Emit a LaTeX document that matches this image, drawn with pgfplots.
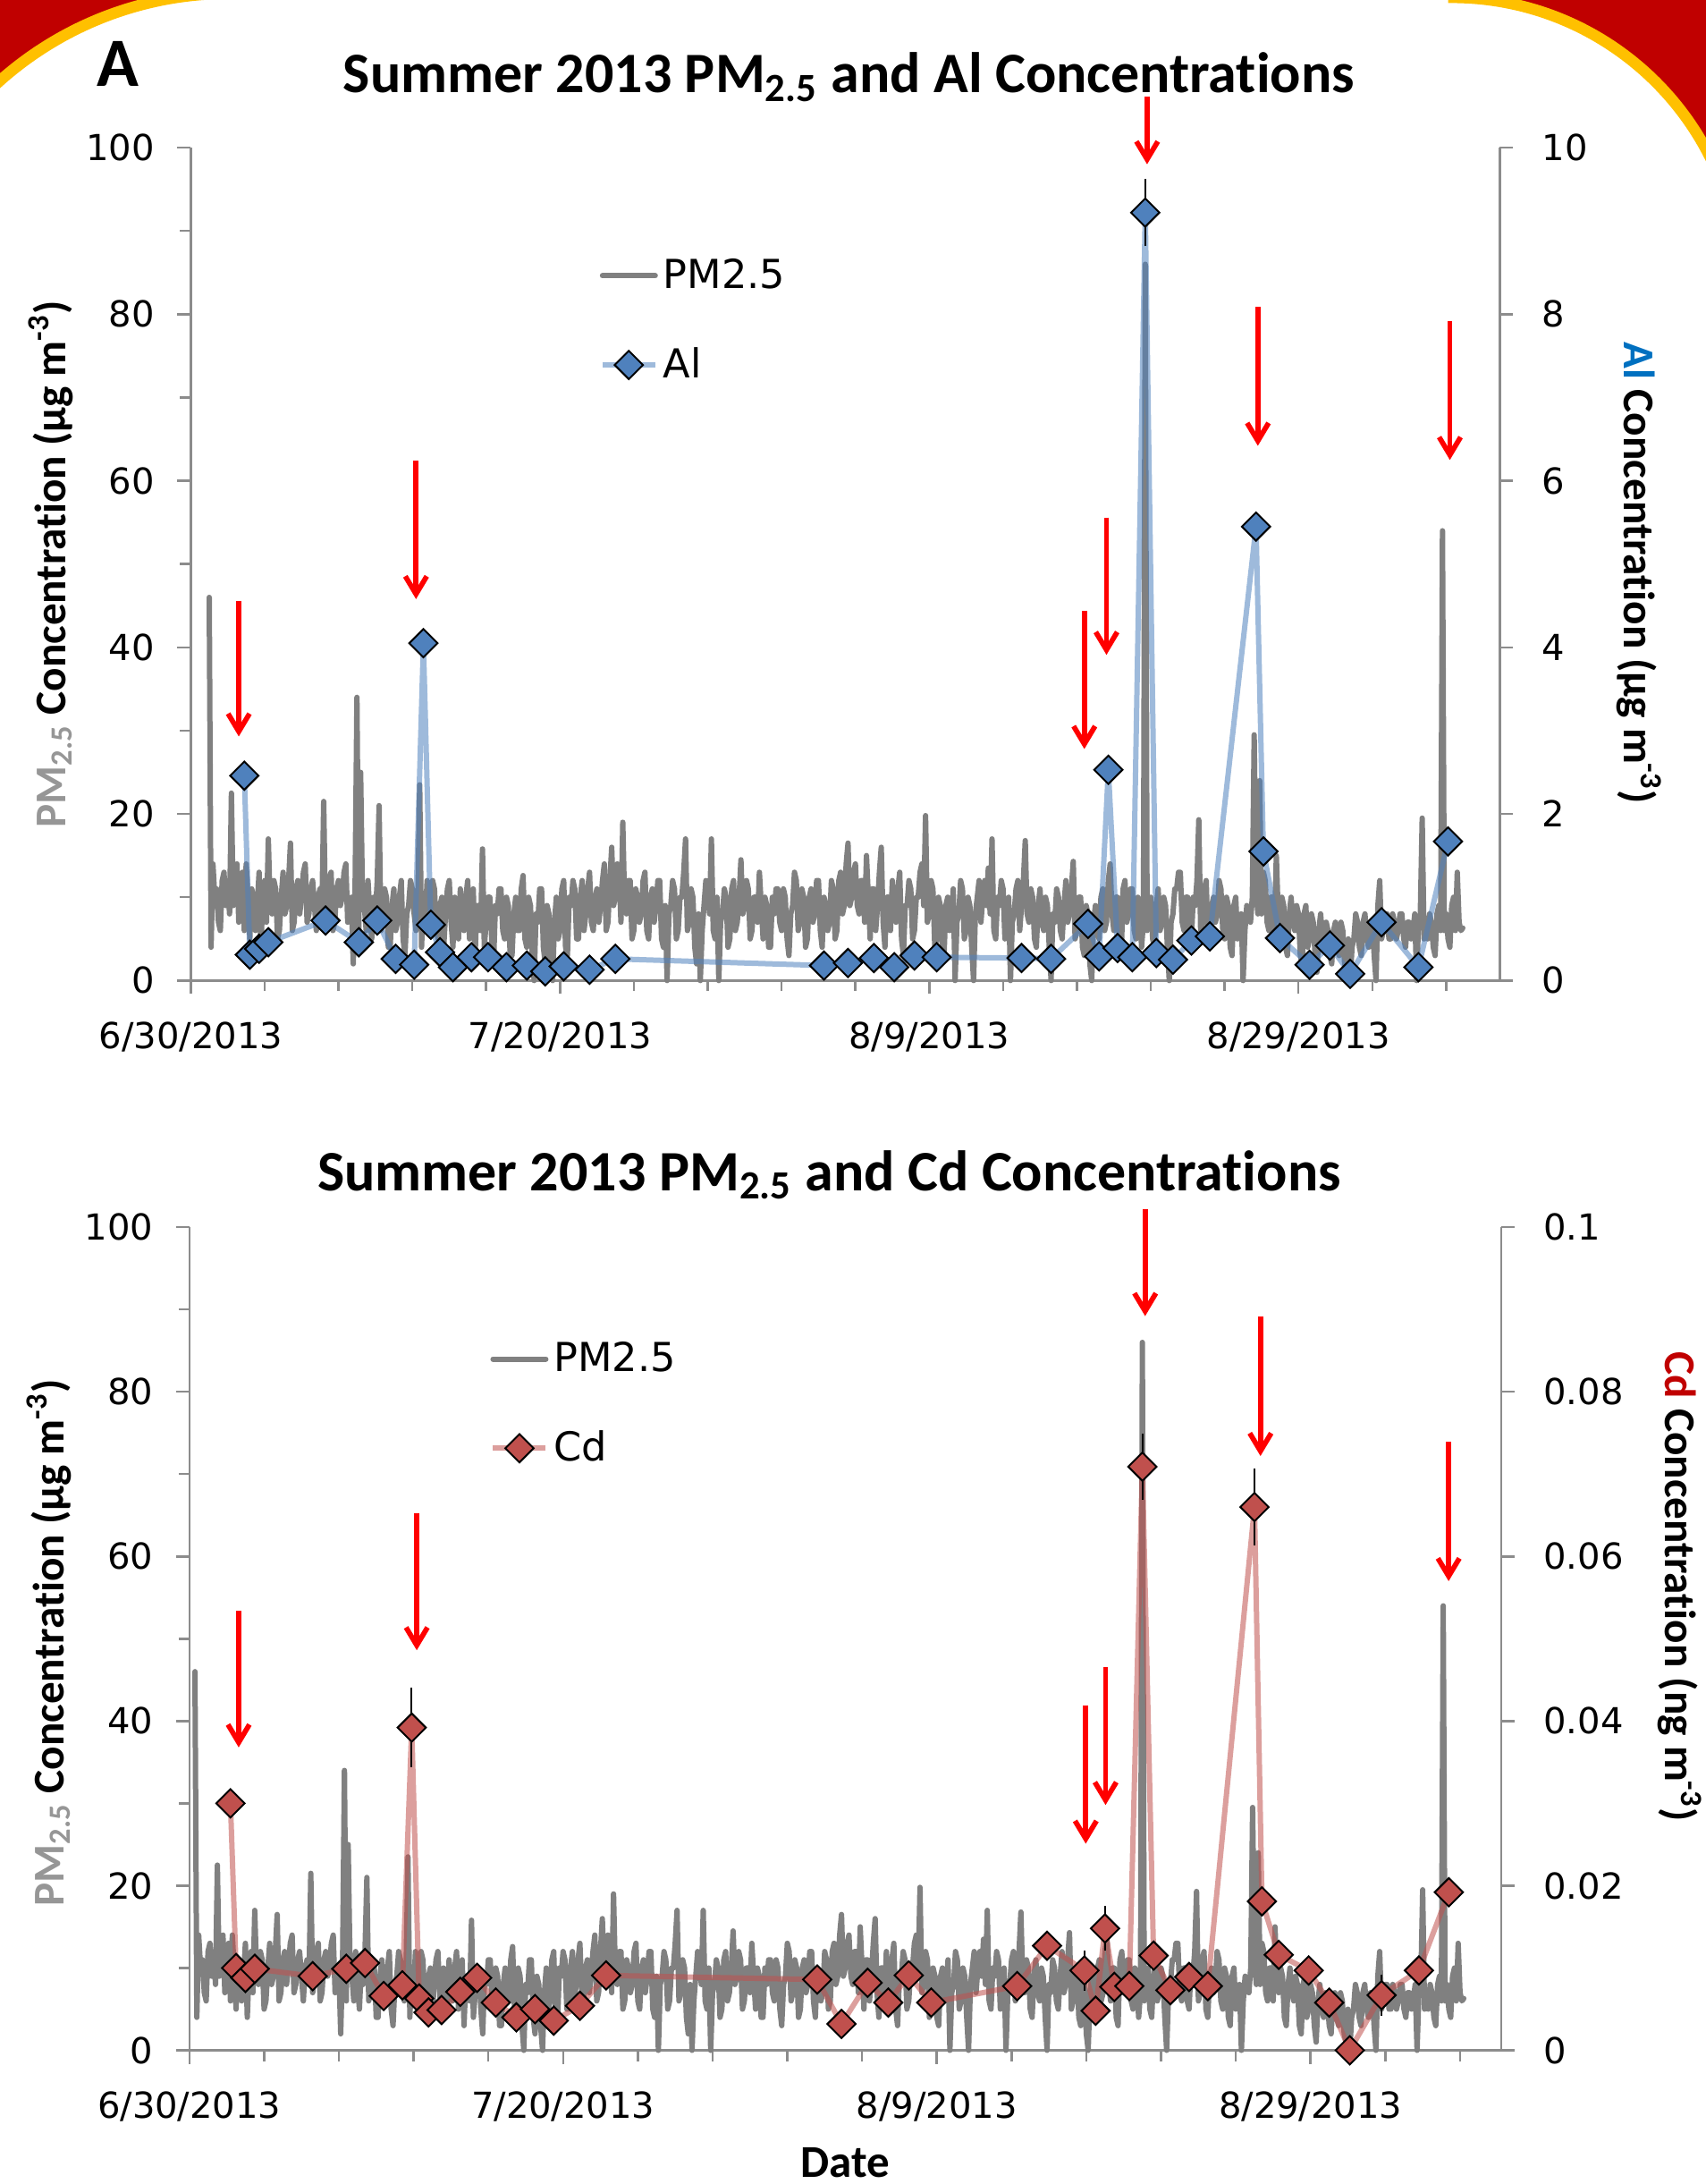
\documentclass[border=0pt]{standalone}
\usepackage{fontspec}
\setmainfont{DejaVu Sans}
\newfontfamily\calib[Ligatures=NoCommon]{Carlito}
\usepackage{pgfplots}
\usepackage{pgfplotstable}
\pgfplotsset{compat=1.18}
\usetikzlibrary{arrows.meta}

\definecolor{pmgray}{RGB}{128,128,128}
\definecolor{axgray}{RGB}{140,140,140}
\definecolor{alblue}{RGB}{79,129,189}
\definecolor{cdred}{RGB}{192,80,77}
\definecolor{lblblue}{RGB}{0,112,192}
\definecolor{lblred}{RGB}{192,0,0}
\definecolor{lblgray}{RGB}{150,150,150}
\definecolor{framered}{RGB}{192,0,0}
\definecolor{gold}{RGB}{255,192,0}

\newcommand\tickfont{\fontsize{11.4}{13}\selectfont}
\newcommand\legfont{\fontsize{12.7}{15}\selectfont}
\newcommand\labfont{\calib\bfseries\fontsize{14}{16}\selectfont}
\newcommand\titfont{\calib\bfseries\fontsize{18.2}{20}\selectfont}

% PM2.5 (ug/m3), x in days from 6/30/2013
\pgfplotstableread[row sep=\\]{
x y\\
1.0 46\\ 1.1 4\\ 1.2 14\\ 1.3 10\\ 1.4 11\\ 1.5 7\\ 1.6 6\\ 1.7 12\\ 1.8 13\\ 1.9 9\\
2.0 12\\ 2.1 8\\ 2.2 22.5\\ 2.3 9\\ 2.4 12\\ 2.5 14\\ 2.6 7\\ 2.7 11\\ 2.8 13\\ 2.9 6\\
3.0 14\\ 3.1 10\\ 3.2 5\\ 3.3 11\\ 3.4 10\\ 3.5 6\\ 3.6 9\\ 3.7 13\\ 3.8 4\\ 3.9 10\\
4.0 12\\ 4.1 7\\ 4.2 17\\ 4.3 9\\ 4.4 8\\ 4.5 12\\ 4.6 11\\ 4.7 5\\ 4.8 6\\ 4.9 10\\
5.0 13\\ 5.1 8\\ 5.2 9\\ 5.3 12\\ 5.4 16.5\\ 5.5 6\\ 5.6 7\\ 5.7 11\\ 5.8 12\\ 5.9 8\\
6.0 10\\ 6.1 13\\ 6.2 14\\ 6.3 7\\ 6.4 8\\ 6.5 11\\ 6.6 12\\ 6.7 9\\ 6.8 6\\ 6.9 10\\
7.0 11\\ 7.1 8\\ 7.2 21.5\\ 7.3 7\\ 7.4 9\\ 7.5 12\\ 7.6 13\\ 7.7 6\\ 7.8 7\\ 7.9 11\\
8.0 12\\ 8.1 9\\ 8.2 10\\ 8.3 13\\ 8.4 14\\ 8.5 7\\ 8.6 8\\ 8.7 10\\ 8.8 2\\ 8.9 11\\
9.0 34\\ 9.1 6\\ 9.2 25\\ 9.3 10\\ 9.4 9\\ 9.5 6\\ 9.6 12\\ 9.7 8\\ 9.8 5\\ 9.9 10\\
10.0 8\\ 10.1 12\\ 10.2 21\\ 10.3 6\\ 10.4 7\\ 10.5 11\\ 10.6 10\\ 10.7 4\\ 10.8 4\\ 10.9 9\\
11.0 11\\ 11.1 6\\ 11.2 7\\ 11.3 10\\ 11.4 12\\ 11.5 5\\ 11.6 3\\ 11.7 8\\ 11.8 9\\ 11.9 12\\
12.0 11\\ 12.1 8\\ 12.2 6\\ 12.3 10\\ 12.4 23.5\\ 12.5 4\\ 12.6 10\\ 12.7 7\\ 12.8 12\\ 12.9 6\\
13.0 7\\ 13.1 12\\ 13.2 11\\ 13.3 6\\ 13.4 5\\ 13.5 9\\ 13.6 10\\ 13.7 4\\ 13.8 8\\ 13.9 11\\
14.0 12\\ 14.1 7\\ 14.2 4\\ 14.3 10\\ 14.4 9\\ 14.5 5\\ 14.6 11\\ 14.7 8\\ 14.8 6\\ 14.9 10\\
15.0 12\\ 15.1 5\\ 15.2 8\\ 15.3 11\\ 15.4 3\\ 15.5 9\\ 15.6 9\\ 15.7 6\\ 15.8 15.8\\ 15.9 4\\
16.0 7\\ 16.1 10\\ 16.2 10\\ 16.3 5\\ 16.4 2\\ 16.5 9\\ 16.6 8\\ 16.7 11\\ 16.8 11\\ 16.9 6\\
17.0 5\\ 17.1 10\\ 17.2 9\\ 17.3 3\\ 17.4 3\\ 17.5 8\\ 17.6 10\\ 17.7 6\\ 17.8 6\\ 17.9 11\\
18.0 12.6\\ 18.1 5\\ 18.2 4\\ 18.3 10\\ 18.4 9\\ 18.5 3\\ 18.6 0\\ 18.7 8\\ 18.8 7\\ 18.9 11\\
19.0 11\\ 19.1 4\\ 19.2 2\\ 19.3 9\\ 19.4 8\\ 19.5 3\\ 19.6 0\\ 19.7 7\\ 19.8 10\\ 19.9 5\\
20.0 6\\ 20.1 11\\ 20.2 12\\ 20.3 4\\ 20.4 3\\ 20.5 10\\ 20.6 9\\ 20.7 12\\ 20.8 11\\ 20.9 5\\
21.0 5\\ 21.1 10\\ 21.2 12\\ 21.3 6\\ 21.4 8\\ 21.5 11\\ 21.6 13\\ 21.7 7\\ 21.8 6\\ 21.9 10\\
22.0 11\\ 22.1 7\\ 22.2 9\\ 22.3 12\\ 22.4 14\\ 22.5 6\\ 22.6 7\\ 22.7 12\\ 22.8 16\\ 22.9 9\\
23.0 10\\ 23.1 14\\ 23.2 13\\ 23.3 7\\ 23.4 19\\ 23.5 9\\ 23.6 8\\ 23.7 12\\ 23.8 12\\ 23.9 5\\
24.0 6\\ 24.1 11\\ 24.2 10\\ 24.3 7\\ 24.4 8\\ 24.5 12\\ 24.6 13\\ 24.7 6\\ 24.8 5\\ 24.9 10\\
25.0 11\\ 25.1 7\\ 25.2 9\\ 25.3 12\\ 25.4 12\\ 25.5 5\\ 25.6 4\\ 25.7 9\\ 25.8 0\\ 25.9 8\\
26.0 9\\ 26.1 12\\ 26.2 11\\ 26.3 5\\ 26.4 6\\ 26.5 10\\ 26.6 10\\ 26.7 13\\ 26.8 17\\ 26.9 6\\
27.0 7\\ 27.1 11\\ 27.2 10\\ 27.3 4\\ 27.4 2\\ 27.5 8\\ 27.6 0\\ 27.7 6\\ 27.8 9\\ 27.9 12\\
28.0 11\\ 28.1 8\\ 28.2 17\\ 28.3 6\\ 28.4 5\\ 28.5 10\\ 28.6 0\\ 28.7 7\\ 28.8 8\\ 28.9 11\\
29.0 10\\ 29.1 4\\ 29.2 5\\ 29.3 11\\ 29.4 12\\ 29.5 6\\ 29.6 7\\ 29.7 10\\ 29.8 14.5\\ 29.9 8\\
30.0 9\\ 30.1 12\\ 30.2 11\\ 30.3 5\\ 30.4 6\\ 30.5 10\\ 30.6 10\\ 30.7 7\\ 30.8 13\\ 30.9 9\\
31.0 5\\ 31.1 10\\ 31.2 9\\ 31.3 4\\ 31.4 4\\ 31.5 10\\ 31.6 8\\ 31.7 11\\ 31.8 11\\ 31.9 7\\
32.0 6\\ 32.1 11\\ 32.2 10\\ 32.3 5\\ 32.4 3\\ 32.5 8\\ 32.6 9\\ 32.7 13\\ 32.8 12\\ 32.9 6\\
33.0 7\\ 33.1 11\\ 33.2 10\\ 33.3 4\\ 33.4 5\\ 33.5 10\\ 33.6 11\\ 33.7 7\\ 33.8 8\\ 33.9 12\\
34.0 12\\ 34.1 6\\ 34.2 4\\ 34.3 10\\ 34.4 9\\ 34.5 6\\ 34.6 7\\ 34.7 12\\ 34.8 11\\ 34.9 5\\
35.0 6\\ 35.1 12\\ 35.2 13\\ 35.3 8\\ 35.4 9\\ 35.5 14\\ 35.6 16.5\\ 35.7 9\\ 35.8 10\\ 35.9 13\\
36.0 14\\ 36.1 9\\ 36.2 8\\ 36.3 12\\ 36.4 12\\ 36.5 7\\ 36.6 15\\ 36.7 10\\ 36.8 5\\ 36.9 11\\
37.0 11\\ 37.1 6\\ 37.2 9\\ 37.3 13\\ 37.4 16\\ 37.5 7\\ 37.6 4\\ 37.7 10\\ 37.8 10\\ 37.9 6\\
38.0 12\\ 38.1 8\\ 38.2 7\\ 38.3 11\\ 38.4 13\\ 38.5 5\\ 38.6 3\\ 38.7 9\\ 38.8 9\\ 38.9 12\\
39.0 11\\ 39.1 5\\ 39.2 6\\ 39.3 10\\ 39.4 10\\ 39.5 13\\ 39.6 14\\ 39.7 9\\ 39.8 19.8\\ 39.9 7\\
40.0 8\\ 40.1 12\\ 40.2 11\\ 40.3 4\\ 40.4 5\\ 40.5 10\\ 40.6 9\\ 40.7 4\\ 40.8 3\\ 40.9 9\\
41.0 10\\ 41.1 6\\ 41.2 7\\ 41.3 11\\ 41.4 0\\ 41.5 7\\ 41.6 8\\ 41.7 12\\ 41.8 11\\ 41.9 5\\
42.0 6\\ 42.1 10\\ 42.2 9\\ 42.3 4\\ 42.4 0\\ 42.5 8\\ 42.6 10\\ 42.7 12\\ 42.8 7\\ 42.9 10\\
43.0 12\\ 43.1 9\\ 43.2 13.5\\ 43.3 8\\ 43.4 17\\ 43.5 6\\ 43.6 5\\ 43.7 10\\ 43.8 9\\ 43.9 12\\
44.0 11\\ 44.1 5\\ 44.2 6\\ 44.3 10\\ 44.4 0\\ 44.5 7\\ 44.6 8\\ 44.7 11\\ 44.8 12\\ 44.9 6\\
45.0 9\\ 45.1 12\\ 45.2 16.8\\ 45.3 8\\ 45.4 7\\ 45.5 11\\ 45.6 10\\ 45.7 5\\ 45.8 4\\ 45.9 9\\
46.0 11\\ 46.1 7\\ 46.2 6\\ 46.3 10\\ 46.4 9\\ 46.5 4\\ 46.6 0\\ 46.7 8\\ 46.8 7\\ 46.9 11\\
47.0 10\\ 47.1 6\\ 47.2 5\\ 47.3 9\\ 47.4 12\\ 47.5 7\\ 47.6 8\\ 47.7 11\\ 47.8 14.3\\ 47.9 5\\
48.0 6\\ 48.1 10\\ 48.2 10\\ 48.3 4\\ 48.4 3\\ 48.5 9\\ 48.6 8\\ 48.7 2\\ 48.8 0\\ 48.9 7\\
49.0 9\\ 49.1 6\\ 49.2 5\\ 49.3 10\\ 49.4 11\\ 49.5 6\\ 49.6 7\\ 49.7 12\\ 49.8 14\\ 49.9 8\\
50.0 6\\ 50.1 10\\ 50.2 10\\ 50.3 4\\ 50.4 3\\ 50.5 11\\ 50.6 12\\ 50.7 7\\ 50.8 8\\ 50.9 11\\
51.0 11\\ 51.1 6\\ 51.2 5\\ 51.3 10\\ 51.4 9\\ 51.5 4\\ 51.6 7\\ 51.7 86\\ 51.8 6\\ 51.9 9\\
52.0 10\\ 52.1 5\\ 52.2 4\\ 52.3 9\\ 52.4 11\\ 52.5 6\\ 52.6 7\\ 52.7 10\\ 52.8 9\\ 52.9 4\\
53.0 0\\ 53.1 7\\ 53.2 8\\ 53.3 11\\ 53.4 11\\ 53.5 13\\ 53.6 13\\ 53.7 7\\ 53.8 6\\ 53.9 10\\
54.0 10\\ 54.1 6\\ 54.2 5\\ 54.3 10\\ 54.4 9\\ 54.5 12\\ 54.6 19.3\\ 54.7 6\\ 54.8 7\\ 54.9 11\\
55.0 12\\ 55.1 5\\ 55.2 4\\ 55.3 9\\ 55.4 10\\ 55.5 7\\ 55.6 8\\ 55.7 12\\ 55.8 11\\ 55.9 6\\
56.0 5\\ 56.1 10\\ 56.2 9\\ 56.3 4\\ 56.4 3\\ 56.5 9\\ 56.6 10\\ 56.7 5\\ 56.8 6\\ 56.9 8\\
57.0 0\\ 57.1 6\\ 57.2 9\\ 57.3 8\\ 57.4 7\\ 57.5 10\\ 57.6 29.5\\ 57.7 11\\ 57.8 8\\ 57.9 24\\
58.0 8\\ 58.1 13\\ 58.2 12\\ 58.3 7\\ 58.4 6\\ 58.5 10\\ 58.6 10\\ 58.7 6\\ 58.8 15\\ 58.9 8\\
59.0 7\\ 59.1 10\\ 59.2 9\\ 59.3 4\\ 59.4 3\\ 59.5 8\\ 59.6 10\\ 59.7 7\\ 59.8 6\\ 59.9 9\\
60.0 8\\ 60.1 3\\ 60.2 2\\ 60.3 8\\ 60.4 9\\ 60.5 4\\ 60.6 5\\ 60.7 8\\ 60.8 7\\ 60.9 3\\
61.0 1\\ 61.1 6\\ 61.2 8\\ 61.3 5\\ 61.4 4\\ 61.5 7\\ 61.6 6\\ 61.7 3\\ 61.8 2\\ 61.9 6\\
62.0 7\\ 62.1 4\\ 62.2 3\\ 62.3 7\\ 62.4 6\\ 62.5 2\\ 62.6 1\\ 62.7 5\\ 62.8 0\\ 62.9 4\\
63.0 5\\ 63.1 8\\ 63.2 7\\ 63.3 4\\ 63.4 3\\ 63.5 7\\ 63.6 8\\ 63.7 5\\ 63.8 4\\ 63.9 7\\
64.0 7\\ 64.1 3\\ 64.2 0\\ 64.3 9\\ 64.4 12\\ 64.5 5\\ 64.6 6\\ 64.7 8\\ 64.8 8\\ 64.9 5\\
65.0 5\\ 65.1 8\\ 65.2 7\\ 65.3 5\\ 65.4 6\\ 65.5 8\\ 65.6 8\\ 65.7 5\\ 65.8 4\\ 65.9 7\\
66.0 7\\ 66.1 5\\ 66.2 6\\ 66.3 8\\ 66.4 0\\ 66.5 7\\ 66.6 8\\ 66.7 19.5\\ 66.8 5\\ 66.9 7\\
67.0 5\\ 67.1 8\\ 67.2 7\\ 67.3 4\\ 67.4 3\\ 67.5 8\\ 67.6 9\\ 67.7 6\\ 67.8 54\\ 67.9 6\\
68.0 8\\ 68.1 5\\ 68.2 4\\ 68.3 9\\ 68.4 10\\ 68.5 6\\ 68.6 13\\ 68.7 7\\ 68.8 6\\ 68.9 6.3\\
}\pmtab

% filter samples: Al (ug/m3), Cd (ng/m3)
\pgfplotstableread[row sep=\\]{
d al cd\\
2.9 2.46 0.0300\\ 3.2 0.31 0.0100\\ 3.7 0.38 0.0088\\ 4.2 0.46 0.0099\\
7.3 0.72 0.0090\\ 9.1 0.46 0.0099\\ 10.1 0.72 0.0106\\ 11.1 0.26 0.0066\\
12.1 0.19 0.0079\\ 12.6 4.05 0.0392\\ 13.0 0.67 0.0063\\ 13.5 0.34 0.0046\\
14.2 0.16 0.0049\\ 15.2 0.28 0.0071\\ 16.1 0.28 0.0088\\ 17.1 0.16 0.0058\\
18.2 0.18 0.0040\\ 19.2 0.11 0.0050\\ 20.2 0.17 0.0036\\ 21.6 0.13 0.0054\\
23.0 0.26 0.0091\\ 34.3 0.18 0.0086\\ 35.6 0.21 0.0032\\ 37.0 0.27 0.0082\\
38.1 0.16 0.0058\\ 39.2 0.30 0.0091\\ 40.4 0.28 0.0058\\ 45.0 0.27 0.0078\\
46.6 0.26 0.0127\\ 48.6 0.68 0.0097\\ 49.2 0.29 0.0048\\ 49.7 2.53 0.0148\\
50.2 0.39 0.0077\\ 51.0 0.28 0.0078\\ 51.7 9.22 0.0709\\ 52.3 0.33 0.0115\\
53.2 0.25 0.0073\\ 54.2 0.48 0.0089\\ 55.2 0.53 0.0078\\ 57.7 5.45 0.0660\\
58.1 1.55 0.0181\\ 59.0 0.51 0.0116\\ 60.6 0.19 0.0097\\ 61.7 0.42 0.0058\\
62.8 0.08 0.0000\\ 64.5 0.70 0.0067\\ 66.5 0.16 0.0097\\ 68.1 1.67 0.0192\\
}\smp

\tikzset{redarr/.style={draw=red, line width=0.57mm, -{Straight Barb[length=2.0mm,width=2.4mm]}}}

\pgfplotsset{
  base/.style={scale only axis, tick align=outside, clip=false,
    axis line style={draw=axgray, line width=0.25mm},
    major tick length=1.5mm, minor tick length=1.2mm,
    tick style={draw=axgray, line width=0.25mm},
    ticklabel style={font=\tickfont},
    label style={font=\labfont},
    title style={font=\titfont, anchor=base, yshift=-6pt},
    legend image code/.code={\draw[mark repeat=2,mark phase=2,#1] plot coordinates {(0mm,0mm) (2.95mm,0mm) (5.9mm,0mm)};},
    legend style={draw=none, fill=none, font=\legfont, row sep=4.9mm, inner sep=0pt,
      nodes={inner sep=0.6mm}},
    legend cell align=left},
  leftax/.style={axis x line*=bottom, axis y line*=left,
    ymin=0, ymax=100, ytick={0,20,40,60,80,100}, yticklabels={0,20,40,60,80,100},
    minor ytick={10,30,50,70,90},
    yticklabel style={xshift=-1.3mm}, xticklabel style={yshift=-1.9mm}},
  rightax/.style={axis y line*=right, axis x line=none,
    yticklabel style={xshift=2mm}},
  pmline/.style={pmgray, line width=0.6mm, line join=round, line cap=round},
  diam/.style={mark=square*, mark size=1.12mm,
    mark options={rotate=45, draw=black, fill=#1, line width=0.2mm, draw opacity=1, fill opacity=1}},
  errs/.style={draw=none, mark=none, forget plot, error bars/.cd, y dir=both, y explicit,
    error bar style={draw=black, line width=0.2mm},
    error mark options={draw=black, line width=0.2mm, mark size=0.95mm}},
}

\begin{document}
\begin{tikzpicture}
\useasboundingbox (0,0) rectangle (190.81mm,244.23mm);

% rounded frame corners of the slide
\begin{scope}[x=0.15576mm, y=-0.15576mm, shift={(0,244.23mm)}]
  \begin{scope}
    \clip (0,0) rectangle (166,245);
    \fill[framered, even odd rule] (-5,-5) rectangle (170,250) (165,244) circle (248.7);
    \draw[gold, line width=1.25mm] (165,244) circle (248.7);
  \end{scope}
  \begin{scope}
    \clip (1040,0) rectangle (1230,210);
    \fill[framered, even odd rule] (1035,-5) rectangle (1235,215) (1042.4,205.8) circle (207.6);
    \draw[gold, line width=1.25mm] (1042.4,205.8) circle (207.6);
  \end{scope}
\end{scope}

\node[font=\calib\bfseries\fontsize{22}{24}\selectfont, anchor=base] at (13.24mm,234.57mm) {A};

% ---------- top panel: PM2.5 and Al ----------
\begin{axis}[base, leftax, at={(21.34mm,134.58mm)}, anchor=south west,
  width=146.41mm, height=93.14mm, xmin=0, xmax=70.9,
  xtick={0,20,40,60}, xticklabels={6/30/2013,7/20/2013,8/9/2013,8/29/2013},
  minor xtick={4,8,12,16,24,28,32,36,44,48,52,56,64,68},
  title={Summer 2013 PM\textsubscript{2.5} and Al Concentrations},
  title style={at={(axis description cs:0.5028,1.0656)}},
  ylabel={{\color{lblgray}PM\textsubscript{2.5}} Concentration (µg m\textsuperscript{-3})},
  ylabel style={at={(axis description cs:-0.107,0.5)}, anchor=center}]
\addplot[pmline] table[x=x,y=y]{\pmtab};
\draw[redarr] (axis cs:2.6,45.6) -- (axis cs:2.6,29.3);
\draw[redarr] (axis cs:12.2,62.4) -- (axis cs:12.2,45.8);
\draw[redarr] (axis cs:48.4,44.4) -- (axis cs:48.4,27.8);
\draw[redarr] (axis cs:49.6,55.6) -- (axis cs:49.6,39.1);
\draw[redarr] (axis cs:51.8,106.1) -- (axis cs:51.8,98.0);
\draw[redarr] (axis cs:57.8,80.9) -- (axis cs:57.8,64.2);
\draw[redarr] (axis cs:68.2,79.2) -- (axis cs:68.2,62.5);
\end{axis}

\begin{axis}[base, rightax, at={(21.34mm,134.58mm)}, anchor=south west,
  width=146.41mm, height=93.14mm, xmin=0, xmax=70.9,
  ymin=0, ymax=10, ytick={0,2,4,6,8,10}, yticklabels={0,2,4,6,8,10},
  ylabel={{\color{lblblue}Al} Concentration (µg m\textsuperscript{-3})},
  ylabel style={at={(axis description cs:1.1065,0.489)}, anchor=center, rotate=180},
  legend style={at={(axis description cs:0.312,0.874)}, anchor=north west}]
\addplot[alblue, draw opacity=0.55, line width=0.6mm, line join=round, forget plot] table[x=d,y=al]{\smp};
\addplot[errs] coordinates {(51.7,9.22) +- (0,0.3)};
\addplot[only marks, diam=alblue, forget plot] table[x=d,y=al]{\smp};
\addlegendimage{pmline}
\addlegendentry{PM2.5}
\addlegendimage{alblue, draw opacity=0.55, line width=0.6mm, diam=alblue}
\addlegendentry{Al}
\end{axis}

% ---------- bottom panel: PM2.5 and Cd ----------
\begin{axis}[base, leftax, at={(21.18mm,14.95mm)}, anchor=south west,
  width=146.73mm, height=92.05mm, xmin=0.7, xmax=70.9,
  xtick={0.7,20.7,40.7,60.7}, xticklabels={6/30/2013,7/20/2013,8/9/2013,8/29/2013},
  minor xtick={4.7,8.7,12.7,16.7,24.7,28.7,32.7,36.7,44.7,48.7,52.7,56.7,64.7,68.7},
  title={Summer 2013 PM\textsubscript{2.5} and Cd Concentrations},
  title style={at={(axis description cs:0.4878,1.044)}},
  ylabel={{\color{lblgray}PM\textsubscript{2.5}} Concentration (µg m\textsuperscript{-3})},
  ylabel style={at={(axis description cs:-0.107,0.495)}, anchor=center},
  xlabel={Date},
  xlabel style={at={(axis description cs:0.5,-0.154)}, anchor=base, font=\calib\bfseries\fontsize{14.5}{16}\selectfont}]
\addplot[pmline] table[x=x,y=y]{\pmtab};
\draw[redarr] (axis cs:3.34,53.4) -- (axis cs:3.34,36.8);
\draw[redarr] (axis cs:12.87,65.3) -- (axis cs:12.87,48.6);
\draw[redarr] (axis cs:48.67,41.9) -- (axis cs:48.67,25.1);
\draw[redarr] (axis cs:49.73,46.6) -- (axis cs:49.73,29.8);
\draw[redarr] (axis cs:51.85,102.2) -- (axis cs:51.85,89.2);
\draw[redarr] (axis cs:58.02,89.1) -- (axis cs:58.02,72.2);
\draw[redarr] (axis cs:68.09,73.9) -- (axis cs:68.09,57.0);
\end{axis}

\begin{axis}[base, rightax, at={(21.18mm,14.95mm)}, anchor=south west,
  width=146.73mm, height=92.05mm, xmin=0.7, xmax=70.9,
  ymin=0, ymax=0.1, ytick={0,0.02,0.04,0.06,0.08,0.1}, yticklabels={0,0.02,0.04,0.06,0.08,0.1},
  ylabel={{\color{lblred}Cd} Concentration (ng m\textsuperscript{-3})},
  ylabel style={at={(axis description cs:1.136,0.563)}, anchor=center, rotate=180},
  legend style={at={(axis description cs:0.229,0.868)}, anchor=north west}]
\addplot[cdred, draw opacity=0.55, line width=0.6mm, line join=round, forget plot] table[x=d,y=cd]{\smp};
\addplot[errs] coordinates {(12.6,0.0392) +- (0,0.0038) (48.6,0.0097) +- (0,0.0014)
  (49.7,0.0148) +- (0,0.0017) (51.7,0.0709) +- (0,0.003) (57.7,0.0660) +- (0,0.0036)
  (64.5,0.0067) +- (0,0.0015)};
\addplot[only marks, diam=cdred, forget plot] table[x=d,y=cd]{\smp};
\addlegendimage{pmline}
\addlegendentry{PM2.5}
\addlegendimage{cdred, draw opacity=0.55, line width=0.6mm, diam=cdred}
\addlegendentry{Cd}
\end{axis}
\end{tikzpicture}
\end{document}
